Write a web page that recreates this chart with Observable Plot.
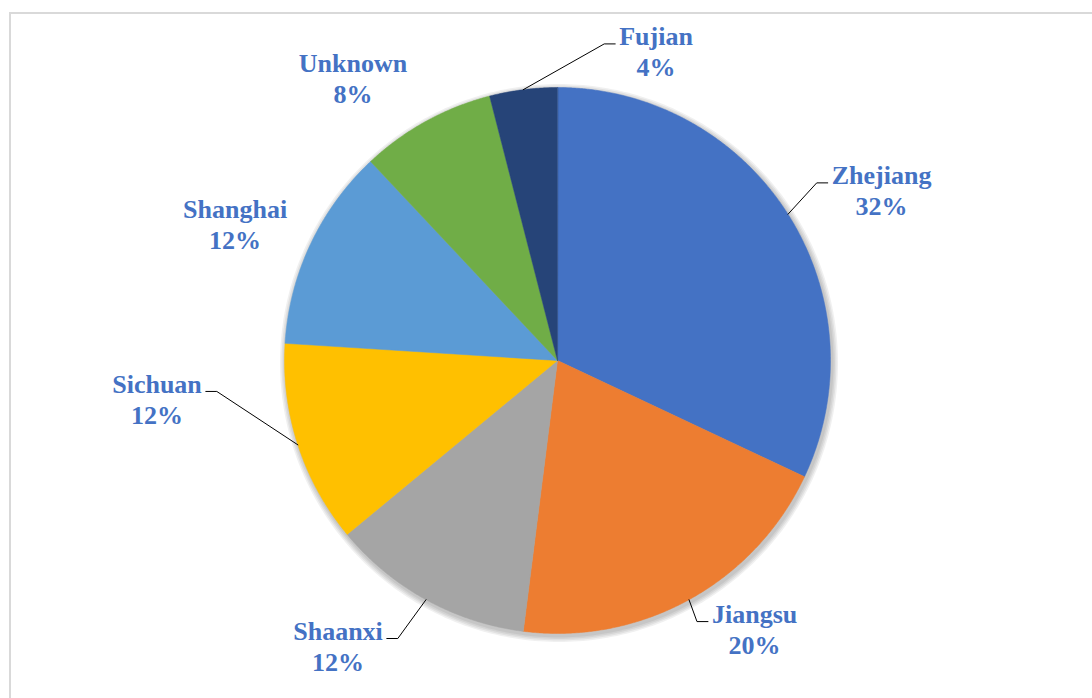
<!DOCTYPE html>
<html><head><meta charset="utf-8">
<script src="https://cdn.jsdelivr.net/npm/d3@7"></script>
<script src="https://cdn.jsdelivr.net/npm/@observablehq/plot@0.6"></script>
<style>
html,body{margin:0;padding:0;background:#fff;overflow:hidden}
#frame{position:absolute;left:9px;top:12px;width:1200px;height:800px;border:2px solid #d9d9d9;box-sizing:border-box}
#chart{position:absolute;left:0;top:0}
</style></head><body><div id="frame"></div><div id="chart"></div>
<script>
// ---- data ----
const provinces = ["Zhejiang", "Jiangsu", "Shaanxi", "Sichuan", "Shanghai", "Unknown", "Fujian"];
const shares = [32, 20, 12, 12, 12, 8, 4];
const colors = ["#4472C4", "#ED7D31", "#A5A5A5", "#FFC000", "#5B9BD5", "#70AD47", "#264478"];

// ---- layout (label centres, in pie radii from the centre) ----
const labelAt = [[1.187, 0.625], [0.722, -0.982], [-0.804, -1.044], [-1.467, -0.139], [-1.181, 0.502], [-0.749, 1.037], [0.361, 1.134]];
const hasLeader = [true, true, true, true, false, false, true];

const W = 1092, H = 698, R = 273, CX = 557, CY = 360;
const px = 1 / R;
const font = "'Liberation Serif', 'Times New Roman', serif";
const ctx = document.createElement("canvas").getContext("2d");
ctx.font = `bold 26px ${font}`;
const measure = s => ctx.measureText(s).width;

const arcs = d3.pie().sort(null).value(d => d)(shares);
const slices = arcs.map((a, i) => {
  const pts = [{x: 0, y: 0}];
  const n = Math.max(2, Math.ceil((a.endAngle - a.startAngle) / 0.005));
  for (let k = 0; k <= n; k++) {
    const t = a.startAngle + (a.endAngle - a.startAngle) * k / n;
    pts.push({x: Math.sin(t), y: Math.cos(t)});
  }
  return pts;
});

// soft outer shadow: a few faint, slightly offset discs under the pie
const shadowRings = [];
[6, 4.5, 3, 1.5].forEach((grow, j) => {
  for (let k = 0; k <= 360; k++) {
    const t = k / 360 * 2 * Math.PI;
    shadowRings.push({ring: j, x: 1.5 * px + Math.sin(t) * (1 + grow * px), y: -2.5 * px + Math.cos(t) * (1 + grow * px)});
  }
});

const labels = provinces.map((p, i) => ({
  text: `${p}\n${shares[i]}%`, x: labelAt[i][0], y: labelAt[i][1]
}));

const leaders = [];
arcs.forEach((a, i) => {
  if (!hasLeader[i]) return;
  const m = (a.startAngle + a.endAngle) / 2;
  const sx = Math.sin(m), sy = Math.cos(m);
  const [cx, cy] = labelAt[i];
  const w = Math.max(measure(provinces[i]), measure(shares[i] + "%"));
  const side = cx > sx ? -1 : 1;
  const edge = cx + side * (w / 2) * px;
  const ey = cy + 7 * px;
  leaders.push({id: i, x: sx, y: sy});
  leaders.push({id: i, x: edge + side * 15 * px, y: ey});
  leaders.push({id: i, x: edge + side * 4 * px, y: ey});
});

const chart = Plot.plot({
  width: W, height: H, margin: 0,
  x: {domain: [-CX / R, (W - CX) / R], axis: null},
  y: {domain: [-(H - CY) / R, CY / R], axis: null},
  style: {background: "transparent", overflow: "visible"},
  marks: [
    Plot.line(shadowRings, {x: "x", y: "y", z: "ring", fill: "#000", fillOpacity: 0.06, stroke: "#000", strokeOpacity: 0, curve: "linear-closed"}),
    ...slices.map((pts, i) => Plot.line(pts, {x: "x", y: "y", fill: colors[i], stroke: colors[i], strokeWidth: 0.5, curve: "linear-closed"})),
    Plot.line(leaders, {x: "x", y: "y", z: "id", stroke: "#000", strokeWidth: 1}),
    Plot.text(labels, {x: "x", y: "y", text: "text", fontSize: 26, fontWeight: "bold", fontFamily: font, fill: "#4472C4", lineHeight: 1.2})
  ]
});
document.getElementById("chart").appendChild(chart);
</script></body></html>
